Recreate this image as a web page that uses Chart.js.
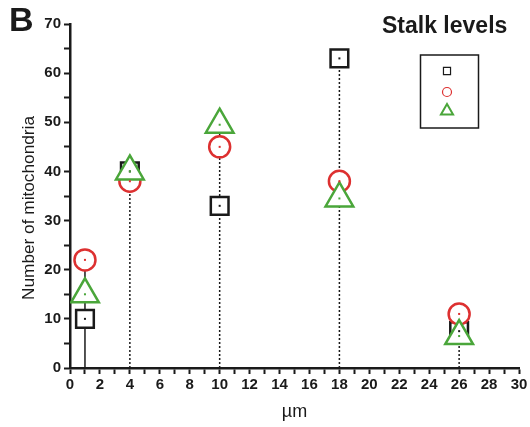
<!DOCTYPE html>
<html>
<head>
<meta charset="utf-8">
<script src="https://cdn.jsdelivr.net/npm/chart.js@4"></script>
<style>
  html, body { margin: 0; padding: 0; background: #ffffff; }
  #wrap { width: 530px; height: 427px; position: relative; }
</style>
</head>
<body>
<div id="wrap"><canvas id="myChart" width="530" height="427"></canvas></div>
<script>
// stalk positions (µm) and mitochondria counts per level
var xPos = [1, 4, 10, 18, 26];
var squareVals = [10, 40, 33, 63, 7.5];
var circleVals = [22, 38, 45, 38, 11];
var triangleVals = [15, 40, 49.5, 34.5, 6.5];

var FONT = "'Liberation Sans', Arial, sans-serif";
var BLACK = '#1a1a1a';
var RED = '#dd3030';
var GREEN = '#4aa63a';

function pts(vals) {
  return xPos.map(function (x, i) { return { x: x, y: vals[i] }; });
}

// one drop line per position, from 0 up to the highest marker
var dropSets = xPos.map(function (x, i) {
  var top = Math.max(squareVals[i], circleVals[i], triangleVals[i]);
  return {
    type: 'line',
    data: [{ x: x, y: 0 }, { x: x, y: top }],
    borderColor: BLACK,
    borderWidth: 1.5,
    borderDash: i == 0 ? [] : [2, 2],
    pointRadius: 0,
    order: 10
  };
});

var markerSets = [
  { data: pts(squareVals), pointStyle: 'rect', pointRadius: 12.5, borderColor: BLACK, order: 3 },
  { data: pts(circleVals), pointStyle: 'circle', pointRadius: 10.5, borderColor: RED, order: 2 },
  { data: pts(triangleVals), pointStyle: 'triangle', pointRadius: 16, borderColor: GREEN, order: 1 }
].map(function (d) {
  d.type = 'scatter';
  d.showLine = false;
  d.pointBorderWidth = 2.5;
  d.pointBackgroundColor = '#ffffff';
  d.pointBorderColor = d.borderColor;
  d.pointHoverRadius = d.pointRadius;
  return d;
});

var decorations = {
  id: 'decorations',
  afterDatasetsDraw: function (chart) {
    var ctx = chart.ctx;
    // small dot in the middle of each marker
    chart.data.datasets.forEach(function (ds, di) {
      if (ds.type != 'scatter') return;
      chart.getDatasetMeta(di).data.forEach(function (el) {
        ctx.fillStyle = ds.pointBorderColor;
        ctx.fillRect(el.x - 1, el.y - 1, 2, 2);
      });
    });
  },
  afterDraw: function (chart) {
    var ctx = chart.ctx;
    ctx.save();
    ctx.fillStyle = BLACK;
    ctx.textBaseline = 'alphabetic';
    ctx.font = "bold 34px " + FONT;
    ctx.textAlign = 'left';
    ctx.fillText('B', 9, 31);
    ctx.font = "bold 23px " + FONT;
    ctx.fillText('Stalk levels', 382, 33);

    // y axis title, narrowed to the axis height
    ctx.save();
    ctx.translate(34, 208);
    ctx.rotate(-Math.PI / 2);
    ctx.font = "17px " + FONT;
    var label = 'Number of mitochondria';
    var w = ctx.measureText(label).width;
    ctx.scale(184 / w, 1);
    ctx.textAlign = 'center';
    ctx.fillText(label, 0, 0);
    ctx.restore();

    // legend box with symbols only
    ctx.strokeStyle = BLACK;
    ctx.lineWidth = 1.5;
    ctx.strokeRect(420.5, 55, 58, 73);
    var h = Chart.helpers;
    ctx.lineWidth = 1.2;
    ctx.strokeStyle = BLACK; ctx.fillStyle = '#fff';
    h.drawPoint(ctx, { pointStyle: 'rect', radius: 5, borderWidth: 1.2 }, 447, 71);
    ctx.strokeStyle = RED;
    h.drawPoint(ctx, { pointStyle: 'circle', radius: 4.5, borderWidth: 1.2 }, 447, 92);
    ctx.strokeStyle = GREEN;
    ctx.lineWidth = 2;
    h.drawPoint(ctx, { pointStyle: 'triangle', radius: 7, borderWidth: 2 }, 447, 111);
    ctx.restore();
  }
};

var ctx = document.getElementById('myChart').getContext('2d');
var chart = new Chart(ctx, {
  data: { datasets: dropSets.concat(markerSets) },
  options: {
    responsive: false,
    animation: false,
    layout: { autoPadding: false, padding: { top: 24, right: 11, left: 0, bottom: 0 } },
    plugins: { legend: { display: false }, tooltip: { enabled: false } },
    scales: {
      x: {
        type: 'linear',
        min: 0, max: 30,
        afterFit: function (s) { s.height = 59; s.paddingRight = 0; s.paddingLeft = 0; },
        border: { color: BLACK, width: 2.5 },
        grid: { drawOnChartArea: false, tickLength: 6, tickWidth: 2, tickColor: BLACK },
        ticks: {
          stepSize: 1,
          autoSkip: false,
          maxRotation: 0,
          padding: 2,
          color: BLACK,
          font: { family: FONT, size: 15, weight: 'bold' },
          callback: function (v) { return v % 2 == 0 ? v : ''; }
        },
        title: { display: true, text: 'µm', color: BLACK, font: { family: FONT, size: 18 }, padding: { top: 4 } }
      },
      y: {
        type: 'linear',
        min: 0, max: 70,
        afterFit: function (s) { s.width = 70; },
        border: { color: BLACK, width: 2.5 },
        grid: { drawOnChartArea: false, tickLength: 6, tickWidth: 2, tickColor: BLACK },
        ticks: {
          stepSize: 5,
          autoSkip: false,
          padding: 3,
          color: BLACK,
          font: { family: FONT, size: 15, weight: 'bold' },
          callback: function (v) { return v % 10 == 0 ? v : ''; }
        }
      }
    }
  },
  plugins: [decorations]
});
</script>
</body>
</html>
